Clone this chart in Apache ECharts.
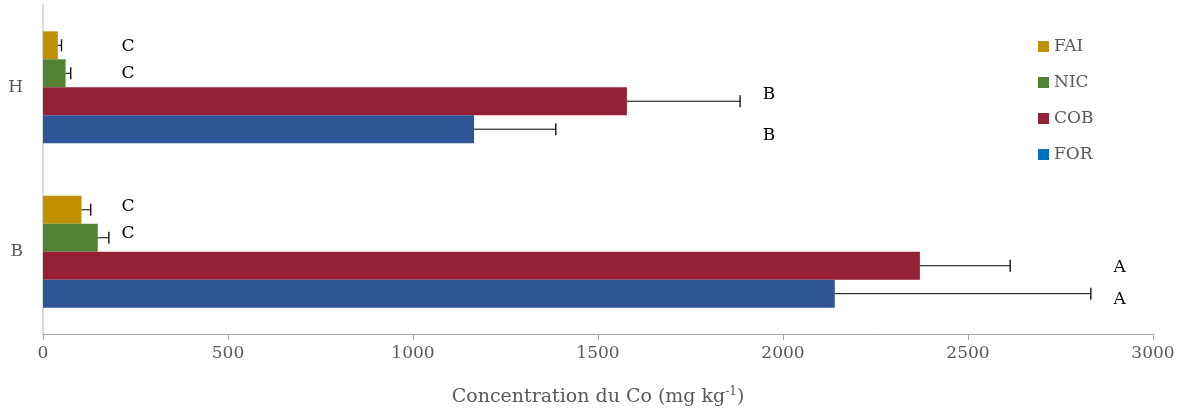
<!DOCTYPE html>
<html><head><meta charset="utf-8">
<script src="https://cdn.jsdelivr.net/npm/echarts@6/dist/echarts.min.js"></script>
<style>html,body{margin:0;padding:0;background:#fff}#c{width:1182px;height:412px}</style>
</head><body><div id="c"></div>
<script>
const categories = ['B', 'H'];
const seriesNames = ['FAI', 'NIC', 'COB', 'FOR'];
const FAI = [104, 40];
const NIC = [148, 61];
const COB = [2370, 1578];
const FOR = [2140, 1165];
const FAI_err = [25, 10];
const NIC_err = [30, 14];
const COB_err = [244, 306];
const FOR_err = [692, 221];
const FAI_letters = ['C', 'C'];
const NIC_letters = ['C', 'C'];
const COB_letters = ['A', 'B'];
const FOR_letters = ['A', 'B'];
const xTicks = [0, 500, 1000, 1500, 2000, 2500, 3000];

const values = [FAI, NIC, COB, FOR];
const errs = [FAI_err, NIC_err, COB_err, FOR_err];
const letters = [FAI_letters, NIC_letters, COB_letters, FOR_letters];
// letter anchor (x value) per letter type
const letterAnchor = {C: 230, B: 1962, A: 2910};
const letterDy = [[-3, 1], [-4, 0], [2, -7], [6, 6]];

const colors = ['#BF9000', '#548235', '#962038', '#2F5597'];
const legendColors = ['#BF9000', '#548235', '#962038', '#0070C0'];
const gapRatio = 0.32;
const FONT = 'DejaVu Serif';

const chart = echarts.init(document.getElementById('c'));
const series = seriesNames.map((n, i) => ({
  name: n, type: 'bar', data: values[i], barGap: '0%', barCategoryGap: '32%',
  itemStyle: {color: colors[i]}, z: 2
}));
const errData = [];
seriesNames.forEach((n, si) => {
  categories.forEach((c, ci) => {
    errData.push([values[si][ci], ci, errs[si][ci], si, letters[si][ci]]);
  });
});
series.push({
  type: 'custom', name: 'err', z: 5, silent: true,
  data: errData,
  encode: {x: 0, y: 1},
  renderItem: function (params, api) {
    const v = api.value(0), ci = api.value(1), e = api.value(2), si = api.value(3);
    const letter = errData[params.dataIndex][4];
    const band = api.size([0, 1])[1];
    const barW = band * (1 - gapRatio) / 4;
    const off = (si - 1.5) * barW;
    const p0 = api.coord([v, ci]);
    const p1 = api.coord([v + e, ci]);
    const y = p0[1] + off;
    const pl = api.coord([letterAnchor[letter], ci]);
    return {
      type: 'group', children: [
        {type: 'line', shape: {x1: p0[0], y1: y, x2: p1[0], y2: y}, style: {stroke: '#000', lineWidth: 1}},
        {type: 'line', shape: {x1: p1[0], y1: y - 6, x2: p1[0], y2: y + 6}, style: {stroke: '#000', lineWidth: 1.3}},
        {type: 'text', x: pl[0], y: y + letterDy[si][ci], style: {text: letter, fill: '#000', font: '17px "' + FONT + '"', align: 'center', verticalAlign: 'middle'}}
      ]
    };
  }
});

chart.setOption({
  animation: false,
  textStyle: {fontFamily: FONT},
  grid: {left: 43, right: 29, top: 5, bottom: 78},
  legend: {
    orient: 'vertical', left: 1033, top: 33, itemGap: 19, itemWidth: 11, itemHeight: 11,
    icon: 'rect',
    data: seriesNames.map((n, i) => ({name: n, itemStyle: {color: legendColors[i]}})),
    textStyle: {color: '#595959', fontSize: 17, fontFamily: FONT, padding: [0, 0, 0, 0]}
  },
  xAxis: {
    type: 'value', min: 0, max: 3000, interval: 500,
    axisLine: {show: true, lineStyle: {color: '#a6a6a6'}},
    axisTick: {show: true, length: 6, inside: false, lineStyle: {color: '#a6a6a6'}},
    splitLine: {show: false},
    axisLabel: {color: '#595959', fontSize: 17, fontFamily: FONT, margin: 11, formatter: v => String(v)},
    name: 'Concentration du Co (mg kg{sup|-1})', nameLocation: 'middle', nameGap: 52,
    nameTextStyle: {
      color: '#595959', fontSize: 19, fontFamily: FONT,
      rich: {sup: {fontSize: 12, verticalAlign: 'top', color: '#595959', fontFamily: FONT, padding: [0, 0, 10, 0]}}
    }
  },
  yAxis: {
    type: 'category', data: categories,
    axisLine: {show: true, lineStyle: {color: '#d9d9d9', width: 2}},
    axisTick: {show: false},
    axisLabel: {color: '#595959', fontSize: 17, fontFamily: FONT, margin: 20}
  },
  series: series
});
</script></body></html>
